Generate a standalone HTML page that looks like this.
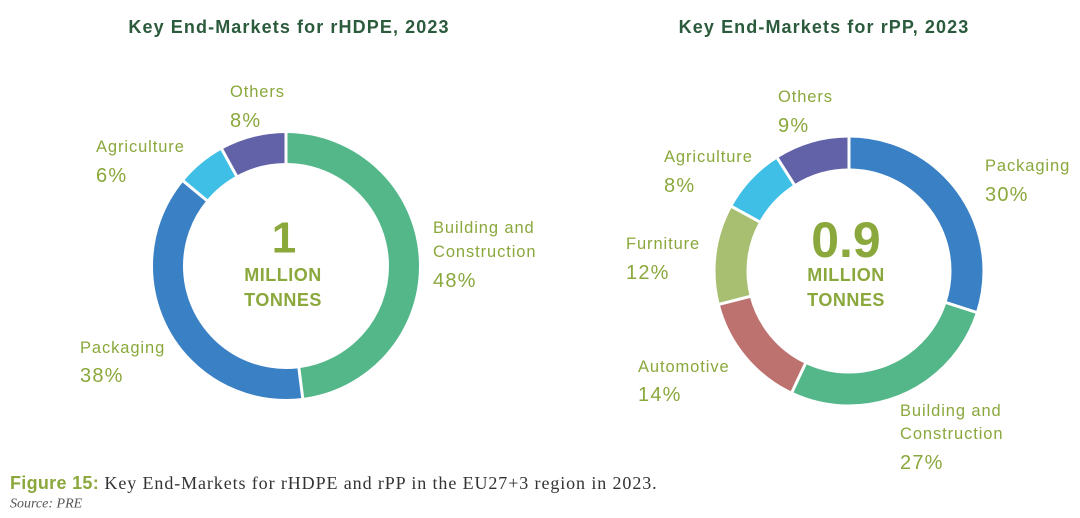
<!DOCTYPE html>
<html><head><meta charset="utf-8"><style>
html,body{margin:0;padding:0;background:#fff;}
svg{display:block;}
</style></head><body>
<svg width="1080" height="518" viewBox="0 0 1080 518" xmlns="http://www.w3.org/2000/svg" font-family="'Liberation Sans', 'DejaVu Sans', sans-serif">
<g font-weight="bold" font-size="18" fill="#2b5a3c" text-anchor="middle" dominant-baseline="central" letter-spacing="1.1">
<text x="289" y="27">Key End-Markets for rHDPE, 2023</text>
<text x="824" y="27">Key End-Markets for rPP, 2023</text>
</g>
<g fill="none" stroke-width="30" transform="rotate(-90 286 266)">
<circle cx="286" cy="266" r="118" stroke="#53b789" stroke-dasharray="355.88 741.42" stroke-dashoffset="0"/>
<circle cx="286" cy="266" r="118" stroke="#3a80c4" stroke-dasharray="281.74 741.42" stroke-dashoffset="-355.88"/>
<circle cx="286" cy="266" r="118" stroke="#40bfe6" stroke-dasharray="44.49 741.42" stroke-dashoffset="-637.62"/>
<circle cx="286" cy="266" r="118" stroke="#6262a8" stroke-dasharray="59.31 741.42" stroke-dashoffset="-682.11"/>
</g>
<g stroke="#fff" stroke-width="3">
<line x1="286" y1="166" x2="286" y2="130" transform="rotate(0 286 266)"/>
<line x1="286" y1="166" x2="286" y2="130" transform="rotate(172.8 286 266)"/>
<line x1="286" y1="166" x2="286" y2="130" transform="rotate(309.6 286 266)"/>
<line x1="286" y1="166" x2="286" y2="130" transform="rotate(331.2 286 266)"/>
</g>
<g fill="none" stroke-width="31" transform="rotate(-90 849 271)">
<circle cx="849" cy="271" r="118" stroke="#3a80c4" stroke-dasharray="222.43 741.42" stroke-dashoffset="0"/>
<circle cx="849" cy="271" r="118" stroke="#53b789" stroke-dasharray="200.18 741.42" stroke-dashoffset="-222.43"/>
<circle cx="849" cy="271" r="118" stroke="#bd7270" stroke-dasharray="103.80 741.42" stroke-dashoffset="-422.61"/>
<circle cx="849" cy="271" r="118" stroke="#a8bf72" stroke-dasharray="88.97 741.42" stroke-dashoffset="-526.41"/>
<circle cx="849" cy="271" r="118" stroke="#40bfe6" stroke-dasharray="59.31 741.42" stroke-dashoffset="-615.38"/>
<circle cx="849" cy="271" r="118" stroke="#6262a8" stroke-dasharray="66.73 741.42" stroke-dashoffset="-674.69"/>
</g>
<g stroke="#fff" stroke-width="3">
<line x1="849" y1="171" x2="849" y2="134" transform="rotate(0 849 271)"/>
<line x1="849" y1="171" x2="849" y2="134" transform="rotate(108 849 271)"/>
<line x1="849" y1="171" x2="849" y2="134" transform="rotate(205.2 849 271)"/>
<line x1="849" y1="171" x2="849" y2="134" transform="rotate(255.6 849 271)"/>
<line x1="849" y1="171" x2="849" y2="134" transform="rotate(298.8 849 271)"/>
<line x1="849" y1="171" x2="849" y2="134" transform="rotate(327.6 849 271)"/>
</g>
<g fill="#8aa83c" font-weight="bold" text-anchor="middle" dominant-baseline="central">
<text x="284" y="238" font-size="44">1</text>
<text x="283" y="275" font-size="18" letter-spacing="0.5">MILLION</text>
<text x="283" y="300" font-size="18" letter-spacing="0.5">TONNES</text>
<text x="846" y="240" font-size="50">0.9</text>
<text x="846" y="275" font-size="18" letter-spacing="0.5">MILLION</text>
<text x="846" y="300" font-size="18" letter-spacing="0.5">TONNES</text>
</g>
<g fill="#8aa83c" dominant-baseline="central">
<g font-size="16.5" letter-spacing="0.9">
<text x="230" y="92">Others</text>
<text x="96" y="147">Agriculture</text>
<text x="433" y="228">Building and</text>
<text x="433" y="252">Construction</text>
<text x="80" y="348">Packaging</text>
<text x="778" y="97">Others</text>
<text x="664" y="157">Agriculture</text>
<text x="985" y="166">Packaging</text>
<text x="626" y="244">Furniture</text>
<text x="638" y="367">Automotive</text>
<text x="900" y="411">Building and</text>
<text x="900" y="434">Construction</text>
</g>
<g font-size="20" letter-spacing="1.2">
<text x="230" y="121">8%</text>
<text x="96" y="176">6%</text>
<text x="433" y="281">48%</text>
<text x="80" y="376">38%</text>
<text x="778" y="126">9%</text>
<text x="664" y="186">8%</text>
<text x="985" y="195">30%</text>
<text x="626" y="273">12%</text>
<text x="638" y="395">14%</text>
<text x="900" y="463">27%</text>
</g>
</g>
<text x="10" y="483" font-size="18" letter-spacing="0.9" dominant-baseline="central" font-family="'Liberation Serif', serif" fill="#333"><tspan font-family="'Liberation Sans', sans-serif" font-weight="bold" fill="#8aa83c" letter-spacing="0.3">Figure 15:</tspan> Key End-Markets for rHDPE and rPP in the EU27+3 region in 2023.</text>
<text x="10" y="504" font-size="14" font-style="italic" dominant-baseline="central" font-family="'Liberation Serif', serif" fill="#555">Source: PRE</text>
</svg>
</body></html>
